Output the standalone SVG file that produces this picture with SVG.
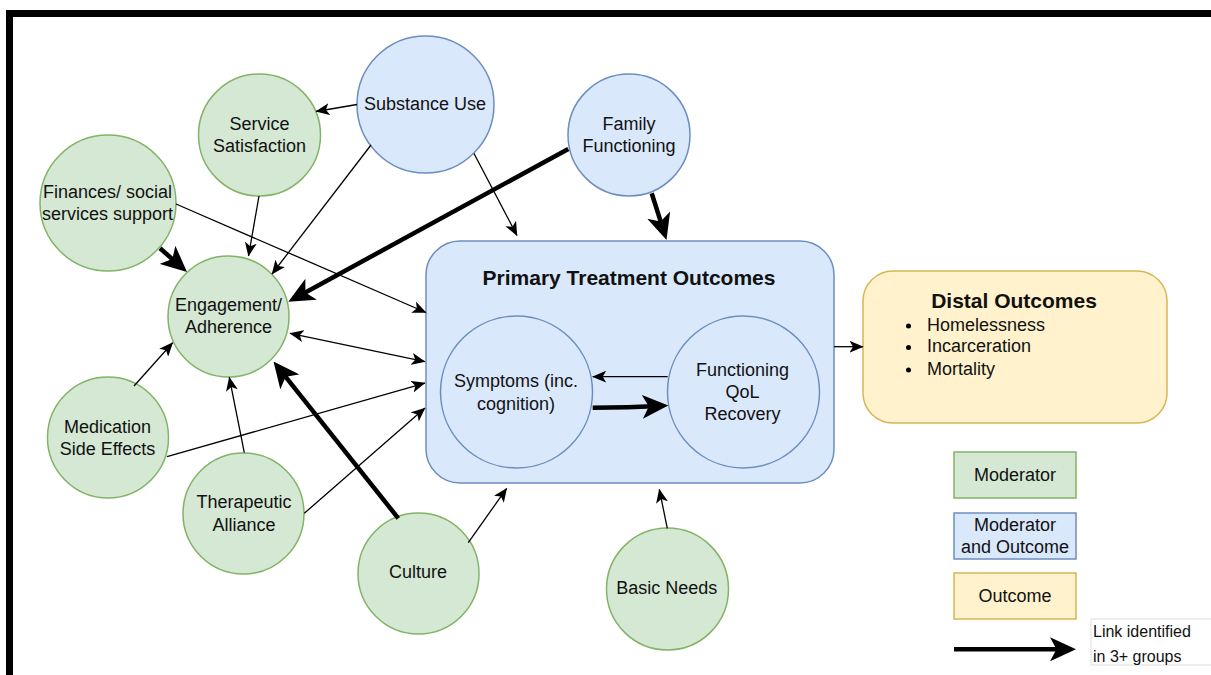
<svg xmlns="http://www.w3.org/2000/svg" width="1211" height="675" viewBox="0 0 1211 675">
<style>
text{font-family:"Liberation Sans",Arial,sans-serif;font-size:18px;fill:#111;text-anchor:middle}
.b{font-weight:bold;font-size:21px}
.l{text-anchor:start}
.s{font-size:16px;text-anchor:start}
.g{fill:#d5e8d4;stroke:#82b366;stroke-width:1.5}
.bl{fill:#dae8fc;stroke:#6c8ebf;stroke-width:1.5}
.y{fill:#fff2cc;stroke:#d6b656;stroke-width:1.5}
.t{fill:none;stroke:#000;stroke-width:1.3;marker-end:url(#a)}
.k{fill:none;stroke:#000;stroke-width:4.5;marker-end:url(#A)}
</style>
<defs>
<marker id="a" viewBox="0 0 14 12" refX="13.5" refY="6" markerWidth="14" markerHeight="12" markerUnits="userSpaceOnUse" orient="auto-start-reverse"><path d="M0,0 L14,6 L0,12 L3.5,6 Z" fill="#000"/></marker>
<marker id="A" viewBox="0 0 26 24" refX="18" refY="12" markerWidth="26" markerHeight="24" markerUnits="userSpaceOnUse" orient="auto"><path d="M0,0 L26,12 L0,24 L6.5,12 Z" fill="#000"/></marker>
</defs>
<rect width="1211" height="675" fill="#fff"/>
<path d="M9.5,675 V13.5 H1211" fill="none" stroke="#000" stroke-width="7"/>

<g id="primary">
<rect x="426" y="241" width="408" height="242" rx="34" class="bl"/>
<text x="629" y="285" class="b">Primary Treatment Outcomes</text>
</g>
<g id="symptoms"><circle cx="516.5" cy="392" r="76" class="bl"/><text x="516" y="386.7">Symptoms (inc.</text><text x="516" y="410">cognition)</text></g>
<g id="functioning"><circle cx="743.5" cy="392" r="76" class="bl"/><text x="742.5" y="375.7">Functioning</text><text x="742.5" y="397.7">QoL</text><text x="742.5" y="420">Recovery</text></g>

<g id="distal">
<rect x="863" y="271" width="304" height="152" rx="30" class="y"/>
<text x="1014" y="308" class="b">Distal Outcomes</text>
<circle cx="908.5" cy="326" r="2.5" fill="#000"/><text x="927" y="330.7" class="l">Homelessness</text>
<circle cx="908.5" cy="347.5" r="2.5" fill="#000"/><text x="927" y="352.3" class="l">Incarceration</text>
<circle cx="908.5" cy="370" r="2.5" fill="#000"/><text x="927" y="375" class="l">Mortality</text>
</g>

<g id="service"><circle cx="259.5" cy="135" r="61" class="g"/><text x="259.5" y="130">Service</text><text x="259.5" y="152.3">Satisfaction</text></g>
<g id="finances"><circle cx="108" cy="203" r="68" class="g"/><text x="107.5" y="198.3">Finances/ social</text><text x="107.5" y="220">services support</text></g>
<g id="substance"><circle cx="425.5" cy="104.5" r="68.5" class="bl"/><text x="425" y="110">Substance Use</text></g>
<g id="family"><circle cx="629" cy="135" r="61" class="bl"/><text x="629" y="130">Family</text><text x="629" y="152.3">Functioning</text></g>
<g id="engagement"><circle cx="228.5" cy="316.5" r="60.5" class="g"/><text x="228.5" y="311">Engagement/</text><text x="228.5" y="333.3">Adherence</text></g>
<g id="medication"><circle cx="108" cy="437.5" r="60.5" class="g"/><text x="107.5" y="432.7">Medication</text><text x="107.5" y="455">Side Effects</text></g>
<g id="therapeutic"><circle cx="243.5" cy="513.5" r="60.5" class="g"/><text x="244" y="508.3">Therapeutic</text><text x="244" y="530.7">Alliance</text></g>
<g id="culture"><circle cx="418.5" cy="573.5" r="60.5" class="g"/><text x="418" y="578.3">Culture</text></g>
<g id="basic"><circle cx="667.5" cy="589" r="61" class="g"/><text x="666.7" y="594">Basic Needs</text></g>

<g id="legend">
<rect x="954" y="452" width="122" height="46" class="g"/><text x="1015" y="480.7">Moderator</text>
<rect x="954" y="513" width="122" height="46" class="bl"/><text x="1015" y="531">Moderator</text><text x="1015" y="553">and Outcome</text>
<rect x="954" y="573" width="122" height="46" class="y"/><text x="1015" y="601.7">Outcome</text>
<path d="M954,649.3 H1068" class="k"/>
<rect x="1091" y="619" width="125" height="46" fill="#fff" stroke="#ddd" stroke-width="1"/>
<text x="1093" y="636.7" class="s">Link identified</text>
<text x="1093" y="661.7" class="s">in 3+ groups</text>
</g>

<g id="connectors">
<path d="M357,104.5 L316,111.5" class="t"/>
<path d="M371,145 L272,274" class="t"/>
<path d="M259,196 L248.5,256" class="t"/>
<path d="M176,204 L426,312.5" class="t"/>
<path d="M474,153.5 L517,235.5" class="t"/>
<path d="M290,333.3 L425,361.7" class="t" style="marker-start:url(#a)"/>
<path d="M167,456.7 L425,383" class="t"/>
<path d="M134,386 L172.7,342.7" class="t"/>
<path d="M244.3,452.7 L229.3,377.3" class="t"/>
<path d="M304.3,513.3 L425,408" class="t"/>
<path d="M468.3,542.7 L506.7,488.3" class="t"/>
<path d="M667.3,528.3 L659.3,489.3" class="t"/>
<path d="M667.7,376.7 L592.7,376.7" class="t"/>
<path d="M834,346.7 L863,346.7" class="t"/>
<path d="M160,248.3 L181,266.7" class="k"/>
<path d="M568.3,149 L295.3,297.9" class="k"/>
<path d="M651.7,193.3 L664.1,232.4" class="k"/>
<path d="M398.3,518.3 L278.5,367.8" class="k"/>
<path d="M592.7,407.7 Q628,407.5 660.3,405.9" class="k"/>
</g>
</svg>
